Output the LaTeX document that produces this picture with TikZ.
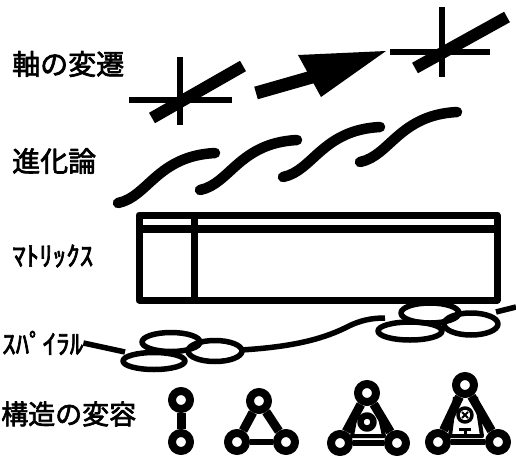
\documentclass[tikz,border=0pt]{standalone}
\usepackage{fontspec}
\newfontfamily\jp[FakeBold=2.5]{Noto Sans CJK JP}
\begin{document}
\begin{tikzpicture}[x=1pt,y=-1pt,line join=round,
  rowlabel/.style={anchor=west,inner sep=0pt,font=\jp\fontsize{28}{28}\selectfont},
  halflabel/.style={anchor=west,inner sep=0pt,font=\jp\fontsize{27}{27}\selectfont},
  axisthin/.style={line width=6pt},
  axisthick/.style={line width=12pt},
  wave/.style={line width=10.5pt,line cap=round},
  grid/.style={line width=7pt},
  coil/.style={line width=5.5pt},
  ring/.style={circle,draw,line width=8pt,minimum size=18pt,inner sep=0pt},
  smallring/.style={circle,draw,line width=6.5pt,minimum size=13pt,inner sep=0pt,fill=white},
  bond/.style={line width=9pt},
  base/.style={line width=6pt},
  inner/.style={line width=4pt}]
\useasboundingbox (0,0) rectangle (516,455);

% row labels
\node[rowlabel]  (l1) at (12,64)  {軸の変遷};
\node[rowlabel]  (l2) at (12,161) {進化論};
\node[halflabel] (l3) at (12,256) {ﾏﾄﾘｯｸｽ};
\node[halflabel] (l4) at (2,343)  {ｽﾊﾟｲﾗﾙ};
\node[rowlabel,font=\jp\fontsize{27}{27}\selectfont] (l5) at (1,414) {構造の変容};

% axes, before and after, joined by a heavy arrow
\draw[axisthin] (180,57) -- (180,125);
\draw[axisthin] (129,100) -- (232,100);
\draw[axisthick] (152,118) -- (243,66);
\draw[line width=13pt] (256,93) -- (312,77);
\fill (298,55) -- (321,97) -- (386,51) -- cycle;
\draw[axisthin] (442,7) -- (442,77);
\draw[axisthin] (390,52) -- (490,52);
\draw[axisthick] (415,68) -- (507,17);

% evolution: a rising series of S-curves
\foreach \sx/\sy in {118/203,200/190,283/177,360/162}
  \draw[wave] (\sx,\sy) .. controls ++(30,-6) and ++(-58,3) .. ++(97,-50);

% matrix frame
\draw[grid] (139,215) rectangle (497,300);
\draw[line width=8pt] (139,229) -- (497,229);
\draw[grid] (194,215) -- (194,300);

% spiral: loops joined by a wandering line
\coordinate (s0) at (l4.east);
\draw[coil] (s0) -- (125,352);
\draw[coil] (154,361) ellipse [x radius=31,y radius=8.5];
\draw[coil] (171,342) ellipse [x radius=29,y radius=9.5];
\draw[coil] (215,351) ellipse [x radius=27,y radius=10.5];
\draw[coil] (241,350) .. controls (290,347) and (320,340) .. (345,328)
  .. controls (360,320) and (372,318) .. (385,318);
\draw[coil] (410,331) ellipse [x radius=32,y radius=9];
\draw[coil] (430,313) ellipse [x radius=29,y radius=10];
\draw[coil] (471,324) ellipse [x radius=27,y radius=11];
\draw[coil] (496,312) -- (516,307);

% structures: two, three, four members and a figure at the centre
\node[ring] (a1) at (181,400) {};
\node[ring] (a2) at (181,442) {};
\draw[bond] (a1) -- (a2);

\node[ring] (b1) at (259,401) {};
\node[ring] (b2) at (237,442) {};
\node[ring] (b3) at (286,442) {};
\draw[bond] (b1) -- (b2);
\draw[bond] (b1) -- (b3);
\draw[base] (b2) -- (b3);

\node[ring] (c1) at (367,393) {};
\node[ring] (c2) at (340,443) {};
\node[ring] (c3) at (397,443) {};
\draw[bond] (c1) -- (c2);
\draw[bond] (c1) -- (c3);
\draw[base] (c2) -- (c3);
\draw[inner] (358,404) -- (352,436) -- (384,436) -- (377,404);
\node[smallring] (cm) at (367,422) {};

\node[ring] (d1) at (465,385) {};
\node[ring] (d2) at (438,442) {};
\node[ring] (d3) at (498,442) {};
\draw[bond] (d1) -- (d2);
\draw[bond] (d1) -- (d3);
\draw[base] (d2) -- (d3);
\draw[inner] (455,397) -- (450,436) -- (482,436) -- (476,397);
\node[circle,draw,line width=3.5pt,minimum size=14pt,inner sep=0pt,fill=white] (dm) at (465,415) {};
\draw[line width=2pt] (462,412) -- (468,418) (468,412) -- (462,418);
\draw[line width=3pt] (459,429) -- (471,429) (465,429) -- (465,436);
\end{tikzpicture}
\end{document}
